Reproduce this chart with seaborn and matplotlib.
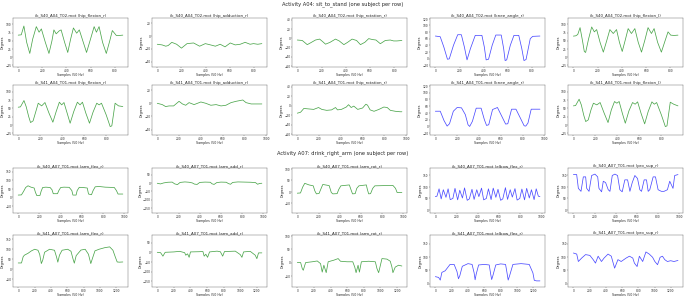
import matplotlib
matplotlib.use("Agg")
import matplotlib.pyplot as plt
from matplotlib.ticker import MultipleLocator
import seaborn as sns

# ---- A04 sit_to_stand, subject S40 (T02) ----
s40_a04_hipflex_r_x = [0, 25, 47, 70, 96, 120, 150, 173, 192, 225, 255, 280, 296, 315, 340, 356, 385, 411, 435, 458, 485, 507, 540, 567, 600, 630, 649, 671, 700, 731, 760, 781, 803, 814, 840, 868]
s40_a04_hipflex_r_y = [67, 68, 95, 45, 11, 55, 93, 76, 86, 45, 11, 50, 83, 71, 80, 83, 45, 14, 55, 89, 73, 83, 45, 14, 55, 93, 76, 93, 45, 11, 50, 81, 71, 66, 66, 67]
s40_a04_hipadd_r_x = [0, 40, 70, 90, 120, 160, 200, 246, 300, 350, 397, 440, 480, 520, 560, 603, 644, 685, 726, 767, 795, 830, 864]
s40_a04_hipadd_r_y = [-13, -14, -16, -15, -10, -13, -19, -12, -11, -16, -12, -14, -16, -13, -17, -11, -14, -13, -10, -13, -12, -13, -12]
s40_a04_hiprot_r_x = [0, 41, 82, 110, 150, 184, 207, 233, 270, 315, 346, 384, 415, 452, 489, 521, 557, 589, 620, 649, 685, 726, 767, 795, 822, 863]
s40_a04_hiprot_r_y = [-4, -5, -14, -10, -4, -2, -7, -13, -9, -2, -6, -14, -9, -2, -5, -14, -9, -1, -3, -4, -12, -5, -4, -6, -6, -5]
s40_a04_knee_r_x = [0, 40, 70, 100, 115, 150, 185, 215, 240, 262, 290, 330, 385, 405, 420, 440, 470, 500, 545, 565, 577, 590, 620, 650, 690, 715, 733, 750, 785, 805, 865]
s40_a04_knee_r_y = [68, 66, 35, -2, -1, 40, 72, 72, 35, -4, 30, 70, 70, 35, -4, -2, 40, 71, 71, 30, -6, -4, 40, 70, 70, 30, -6, -3, 60, 67, 68]
s40_a04_hipflex_l_x = [0, 20, 36, 55, 75, 90, 101, 125, 151, 173, 192, 220, 247, 275, 301, 329, 356, 380, 403, 428, 452, 479, 507, 535, 562, 590, 616, 644, 666, 695, 726, 755, 781, 803, 830, 863]
s40_a04_hipflex_l_y = [64, 65, 69, 90, 50, 17, 14, 55, 92, 77, 84, 45, 15, 50, 84, 72, 84, 45, 17, 52, 87, 72, 87, 45, 15, 52, 90, 72, 87, 45, 15, 48, 77, 67, 66, 67]

# ---- A04 sit_to_stand, subject S41 (T01) ----
s41_a04_hipflex_x = [0, 20, 52, 72, 95, 112, 135, 160, 182, 213, 243, 280, 315, 345, 374, 395, 416, 445, 472, 505, 538, 562, 584, 615, 648, 680, 714, 736, 757, 800, 836, 851, 881, 912, 951]
s41_a04_hipflex_r_y = [53, 54, 73, 55, 25, 7, 12, 40, 65, 57, 67, 35, 8, 40, 68, 60, 67, 35, 5, 40, 68, 60, 68, 35, 5, 38, 65, 60, 65, 30, -5, -3, 65, 57, 55]
s41_a04_hipflex_l_y = [57, 58, 77, 60, 28, 10, 15, 45, 65, 60, 67, 35, 7, 45, 70, 65, 70, 35, 5, 42, 67, 62, 69, 35, 3, 40, 69, 62, 67, 30, -5, -3, 68, 62, 57]
s41_a04_hipadd_r_x = [0, 46, 77, 108, 150, 200, 231, 261, 292, 338, 400, 445, 492, 540, 585, 630, 677, 723, 754, 785, 815, 862, 908, 960]
s41_a04_hipadd_r_y = [0, -2, -5, -4, -4, 3, -1, -3, 1, -2, 2, 0, -3, -2, -4, -3, 1, 3, 4, 5, 1, -1, -1, -1]
s41_a04_hiprot_r_x = [0, 30, 60, 105, 150, 195, 225, 270, 315, 351, 369, 405, 450, 471, 495, 519, 555, 600, 630, 645, 669, 705, 750, 795, 826, 855, 901, 946, 961]
s41_a04_hiprot_r_y = [-16, -14, -6, -7, -8, -4, -8, -10, -9, -4, -9, -8, -3, 2, -4, -1, -8, -5, 3, 1, -9, -12, -8, -3, -4, -10, -12, -13, -13]
s41_a04_knee_r_x = [0, 45, 80, 108, 130, 165, 200, 240, 275, 300, 315, 340, 375, 420, 450, 470, 490, 525, 570, 610, 645, 665, 700, 740, 780, 815, 830, 850, 880, 960]
s41_a04_knee_r_y = [45, 45, 17, 1, 8, 45, 56, 55, 35, 5, 0, 15, 54, 54, 20, 3, 5, 50, 56, 30, 7, 8, 51, 51, 25, 2, 1, 10, 51, 51]

# ---- A07 drink_right_arm, subject S40 (T01) ----
s40_a07_armflex_x = [0, 30, 50, 70, 92, 120, 150, 162, 175, 205, 215, 230, 260, 300, 318, 330, 370, 382, 400, 430, 480, 505, 515, 545, 555, 575, 610, 650, 662, 690, 705, 725, 760, 820, 905, 925, 940, 985]
s40_a07_armflex_y = [14, 15, 35, 58, 68, 60, 55, 30, 11, 12, 35, 58, 60, 58, 45, 22, 22, 40, 58, 60, 59, 40, 14, 14, 40, 59, 58, 55, 20, 16, 40, 62, 64, 60, 58, 40, 20, 20]
s40_a07_armadd_x = [0, 30, 60, 100, 140, 165, 190, 215, 260, 300, 330, 350, 375, 400, 450, 500, 515, 535, 560, 600, 650, 670, 690, 710, 760, 820, 880, 925, 945, 965, 985]
s40_a07_armadd_y = [-2, -6, 0, 4, 5, -6, -10, 3, 6, 4, 0, -7, -9, 3, 5, 4, -5, -9, 2, 5, 4, -4, -8, 3, 6, 5, 4, 2, -8, -3, -2]
s40_a07_armrot_x = [0, 30, 50, 70, 110, 150, 165, 180, 205, 220, 240, 300, 320, 335, 375, 390, 410, 490, 505, 520, 545, 560, 580, 650, 660, 672, 690, 710, 730, 900, 925, 940, 985]
s40_a07_armrot_y = [-6, -5, 20, 37, 30, 26, 4, -9, -7, 10, 32, 27, -3, -9, -8, 10, 26, 30, 10, -9, -8, 15, 26, 30, 10, -9, -8, 15, 26, 28, 15, -3, -3]
s40_a07_elbow_x = [0, 15, 35, 55, 75, 100, 120, 140, 165, 185, 210, 230, 255, 275, 300, 320, 345, 365, 390, 410, 435, 455, 480, 500, 525, 545, 570, 590, 615, 635, 660, 680, 705, 725, 750, 770, 795, 815, 840, 860, 885, 905, 930, 950, 970, 985]
s40_a07_elbow_y = [58, 60, 92, 48, 88, 55, 92, 45, 50, 94, 44, 86, 52, 96, 42, 48, 90, 46, 88, 58, 95, 44, 50, 92, 45, 95, 55, 90, 42, 48, 97, 46, 88, 56, 93, 43, 50, 91, 44, 94, 52, 88, 45, 92, 60, 58]
s40_a07_prosup_x = [0, 31, 47, 72, 94, 116, 126, 148, 173, 204, 230, 242, 267, 283, 305, 330, 346, 368, 393, 418, 440, 462, 487, 513, 535, 557, 582, 607, 629, 645, 670, 692, 708, 723, 755, 777, 802, 833, 858, 890, 912, 943, 959, 990]
s40_a07_prosup_y = [154, 154, 94, 81, 144, 144, 94, 81, 150, 156, 144, 94, 79, 125, 119, 88, 81, 150, 156, 150, 88, 79, 131, 131, 81, 119, 150, 137, 88, 81, 131, 131, 81, 88, 144, 144, 88, 81, 81, 88, 125, 94, 150, 154]

# ---- A07 drink_right_arm, subject S41 (T01) ----
s41_a07_armflex_x = [0, 40, 60, 75, 121, 162, 202, 242, 263, 283, 300, 323, 384, 444, 470, 485, 505, 537, 606, 646, 672, 687, 710, 768, 820, 860, 889, 910, 940, 990, 1060, 1120, 1160, 1190, 1212, 1240, 1281]
s41_a07_armflex_y = [31, 31, 62, 70, 80, 92, 100, 95, 74, 28, 45, 85, 100, 95, 60, 35, 70, 95, 100, 90, 50, 30, 68, 96, 100, 75, 28, 55, 92, 100, 108, 112, 95, 60, 36, 35, 36]
s41_a07_armadd_x = [0, 40, 68, 95, 200, 270, 330, 343, 365, 384, 400, 500, 550, 565, 585, 606, 630, 720, 760, 788, 810, 880, 940, 1000, 1020, 1040, 1120, 1180, 1200, 1220, 1260]
s41_a07_armadd_y = [0, -2, -20, 0, 2, 5, -2, -15, -8, -26, 2, 3, 4, -20, -10, -26, 2, 6, 3, -20, 4, 5, 6, -12, -26, 2, 5, -15, -33, -3, -3]
s41_a07_armrot_x = [0, 40, 60, 72, 100, 180, 240, 280, 300, 320, 348, 372, 440, 492, 520, 600, 668, 692, 708, 732, 748, 772, 860, 940, 960, 980, 1020, 1080, 1120, 1140, 1152, 1180, 1220, 1260]
s41_a07_armrot_y = [0, 0, -23, -29, 0, 3, 6, -4, -36, -10, -38, 3, 9, 15, 5, 3, 3, -17, -38, -10, -36, 3, 5, 3, -23, -38, 15, 13, 5, -17, -38, -17, -10, -13]
s41_a07_elbow_x = [0, 40, 60, 80, 120, 180, 230, 265, 283, 300, 330, 400, 450, 475, 487, 500, 530, 600, 660, 678, 690, 705, 740, 800, 860, 878, 892, 910, 950, 1050, 1150, 1195, 1212, 1240, 1281]
s41_a07_elbow_y = [26, 23, 13, 42, 48, 72, 72, 45, 18, 30, 65, 75, 72, 40, 14, 35, 70, 72, 70, 35, 15, 30, 70, 74, 72, 40, 13, 30, 72, 75, 72, 40, 12, 10, 10]
s41_a07_prosup_x = [0, 41, 61, 102, 150, 203, 244, 272, 305, 346, 378, 427, 467, 508, 549, 589, 650, 691, 732, 752, 785, 813, 854, 894, 935, 976, 1004, 1037, 1069, 1098, 1126, 1159, 1199, 1240, 1289]
s41_a07_prosup_y = [115, 111, 83, 96, 109, 106, 90, 77, 103, 83, 96, 111, 103, 58, 90, 83, 96, 103, 96, 77, 64, 103, 83, 119, 111, 99, 83, 71, 99, 103, 90, 83, 86, 83, 87]

GREEN = "green"
BLUE = "blue"

# y range and tick step per column
a04_ylims = [(-30, 120), (-48, 28), (-62, 44), (-25, 123), (-30, 120)]
a04_ysteps = [25, 20, 20, 20, 25]
a07_ylims = [(-90, 172), (-180, 90), (-92, 104), (-13, 183), (-13, 183)]
a07_ysteps = [50, 50, 50, 50, 50]

panels = [
    # row, col, title, x, y, color
    (0, 0, "ik_S40_A04_T02.mot (hip_flexion_r)", s40_a04_hipflex_r_x, s40_a04_hipflex_r_y, GREEN),
    (0, 1, "ik_S40_A04_T02.mot (hip_adduction_r)", s40_a04_hipadd_r_x, s40_a04_hipadd_r_y, GREEN),
    (0, 2, "ik_S40_A04_T02.mot (hip_rotation_r)", s40_a04_hiprot_r_x, s40_a04_hiprot_r_y, GREEN),
    (0, 3, "ik_S40_A04_T02.mot (knee_angle_r)", s40_a04_knee_r_x, s40_a04_knee_r_y, BLUE),
    (0, 4, "ik_S40_A04_T02.mot (hip_flexion_l)", s40_a04_hipflex_l_x, s40_a04_hipflex_l_y, GREEN),
    (1, 0, "ik_S41_A04_T01.mot (hip_flexion_r)", s41_a04_hipflex_x, s41_a04_hipflex_r_y, GREEN),
    (1, 1, "ik_S41_A04_T01.mot (hip_adduction_r)", s41_a04_hipadd_r_x, s41_a04_hipadd_r_y, GREEN),
    (1, 2, "ik_S41_A04_T01.mot (hip_rotation_r)", s41_a04_hiprot_r_x, s41_a04_hiprot_r_y, GREEN),
    (1, 3, "ik_S41_A04_T01.mot (knee_angle_r)", s41_a04_knee_r_x, s41_a04_knee_r_y, BLUE),
    (1, 4, "ik_S41_A04_T01.mot (hip_flexion_l)", s41_a04_hipflex_x, s41_a04_hipflex_l_y, GREEN),
    (2, 0, "ik_S40_A07_T01.mot (arm_flex_r)", s40_a07_armflex_x, s40_a07_armflex_y, GREEN),
    (2, 1, "ik_S40_A07_T01.mot (arm_add_r)", s40_a07_armadd_x, s40_a07_armadd_y, GREEN),
    (2, 2, "ik_S40_A07_T01.mot (arm_rot_r)", s40_a07_armrot_x, s40_a07_armrot_y, GREEN),
    (2, 3, "ik_S40_A07_T01.mot (elbow_flex_r)", s40_a07_elbow_x, s40_a07_elbow_y, BLUE),
    (2, 4, "ik_S40_A07_T01.mot (pro_sup_r)", s40_a07_prosup_x, s40_a07_prosup_y, BLUE),
    (3, 0, "ik_S41_A07_T01.mot (arm_flex_r)", s41_a07_armflex_x, s41_a07_armflex_y, GREEN),
    (3, 1, "ik_S41_A07_T01.mot (arm_add_r)", s41_a07_armadd_x, s41_a07_armadd_y, GREEN),
    (3, 2, "ik_S41_A07_T01.mot (arm_rot_r)", s41_a07_armrot_x, s41_a07_armrot_y, GREEN),
    (3, 3, "ik_S41_A07_T01.mot (elbow_flex_r)", s41_a07_elbow_x, s41_a07_elbow_y, BLUE),
    (3, 4, "ik_S41_A07_T01.mot (pro_sup_r)", s41_a07_prosup_x, s41_a07_prosup_y, BLUE),
]

sns.set_style("ticks")
plt.rcParams["font.family"] = ["DejaVu Sans"]

W, H = 685, 296
DPI = 27.4
fig = plt.figure(figsize=((W + 0.2) / DPI, (H + 0.2) / DPI), dpi=DPI)

# axes boxes in pixels
col_left = [13, 152, 292, 430, 568]
col_w = 115
row_box = [(18, 67), (85, 135), (168, 213), (235, 287)]

for row, col, title, xs, ys, color in panels:
    top, bottom = row_box[row]
    ax = fig.add_axes([col_left[col] / W, 1 - bottom / H, col_w / W, (bottom - top) / H])
    sns.lineplot(x=xs, y=ys, ax=ax, color=color, alpha=0.7, linewidth=2)
    if row < 2:
        ax.set_ylim(*a04_ylims[col])
        ax.yaxis.set_major_locator(MultipleLocator(a04_ysteps[col]))
    else:
        ax.set_ylim(*a07_ylims[col])
        ax.yaxis.set_major_locator(MultipleLocator(a07_ysteps[col]))
    ax.xaxis.set_major_locator(MultipleLocator(200))
    ax.set_title(title, fontsize=10.5, pad=3)
    ax.set_xlabel("Samples (50 Hz)", fontsize=8.5, labelpad=1)
    ax.set_ylabel("Degrees", fontsize=8.5, labelpad=1)
    ax.tick_params(labelsize=7.5, length=3, pad=1)

fig.text(0.5, 1 - 4 / H, "Activity A04: sit_to_stand (one subject per row)", ha="center", va="center", fontsize=13.5)
fig.text(0.5, 1 - 153 / H, "Activity A07: drink_right_arm (one subject per row)", ha="center", va="center", fontsize=13.5)

fig.savefig("out.png", dpi=DPI)
